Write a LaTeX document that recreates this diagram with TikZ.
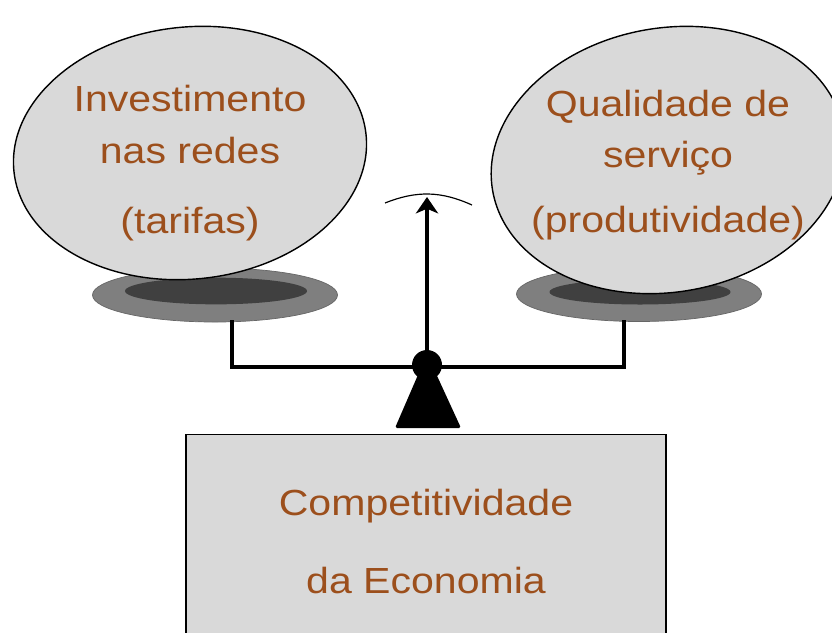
\documentclass[tikz,border=0pt]{standalone}
\usepackage{fontspec}
\setmainfont{Liberation Sans}
\newfontfamily\bubblefont[FakeStretch=1.13]{Liberation Sans}
\usepackage{tikz}
\usetikzlibrary{shapes.geometric, arrows.meta, positioning}
\definecolor{panfill}{HTML}{D9D9D9}
\definecolor{labelbrown}{HTML}{9C4F1C}
\definecolor{dishouter}{HTML}{7F7F7F}
\definecolor{dishinner}{HTML}{404040}
\tikzstyle{bubble} = [ellipse, draw=black, line width=1.2pt, fill=panfill, inner sep=0pt]
\tikzstyle{dish} = [ellipse, draw=black!60, line width=0.6pt, fill=dishouter, inner sep=0pt]
\tikzstyle{dishcore} = [ellipse, fill=dishinner, inner sep=0pt]
\tikzstyle{caption} = [text=labelbrown, align=center, font=\bubblefont\fontsize{31}{44}\selectfont]
\tikzstyle{base} = [rectangle, draw=black, line width=1.2pt, fill=panfill, minimum width=14.4cm, minimum height=6.4cm]
\tikzstyle{beam} = [line width=3.2pt, line cap=rect]
\tikzstyle{arrow} = [line width=3pt, -{Stealth[length=14pt, width=19pt, inset=4pt]}]

\begin{document}
\begin{tikzpicture}[x=0.03cm, y=-0.03cm]
        \useasboundingbox (0,0) rectangle (832,632);
        \clip (0,0) rectangle (832,632);

        \coordinate (hangL) at (232,367);
        \coordinate (hangR) at (624,367);
        \coordinate (tip) at (427,197);
        \coordinate (swingL) at (385,203);
        \coordinate (swingR) at (472,205);
        \coordinate (fulcrumtop) at (427,354);
        \coordinate (fulcrumL) at (395,428);
        \coordinate (fulcrumR) at (461,428);

        % pans under the bubbles
        \node (dishL) [dish, minimum width=7.35cm, minimum height=1.62cm] at (215,295) {};
        \node (coreL) [dishcore, minimum width=5.46cm, minimum height=0.8cm] at (216,291) {};
        \node (dishR) [dish, minimum width=7.35cm, minimum height=1.65cm] at (639,294) {};
        \node (coreR) [dishcore, minimum width=5.43cm, minimum height=0.75cm] at (640,292) {};

        \draw [beam] (dishL.south -| hangL) -- (hangL) -- (hangR) -- (dishR.south -| hangR);

        \node (ballL) [bubble, rotate=6, minimum width=10.62cm, minimum height=7.56cm] at (190,153) {};
        \node (ballR) [bubble, rotate=10, minimum width=10.68cm, minimum height=7.92cm] at (668,160) {};
        \node (textL) [caption] at (190,163) {Investimento\\nas redes\\[0.55cm](tarifas)};
        \node (textR) [caption] at (668,165) {Qualidade de\\serviço\\[0.4cm](produtividade)};

        \draw [arrow] (hangL -| tip) -- (tip);
        \draw [line width=1pt] (swingL) to[bend left=23] (swingR);

        \node (pivot) [circle, fill=black, minimum size=0.9cm, inner sep=0pt] at (427,365) {};
        \fill [rounded corners=1.5pt] (fulcrumtop) -- (fulcrumL) -- (fulcrumR) -- cycle;

        \node (economy) [base, anchor=north, caption, font=\bubblefont\fontsize{31}{66}\selectfont] at (426,434) {Competitividade\\da Economia};
\end{tikzpicture}
\end{document}
